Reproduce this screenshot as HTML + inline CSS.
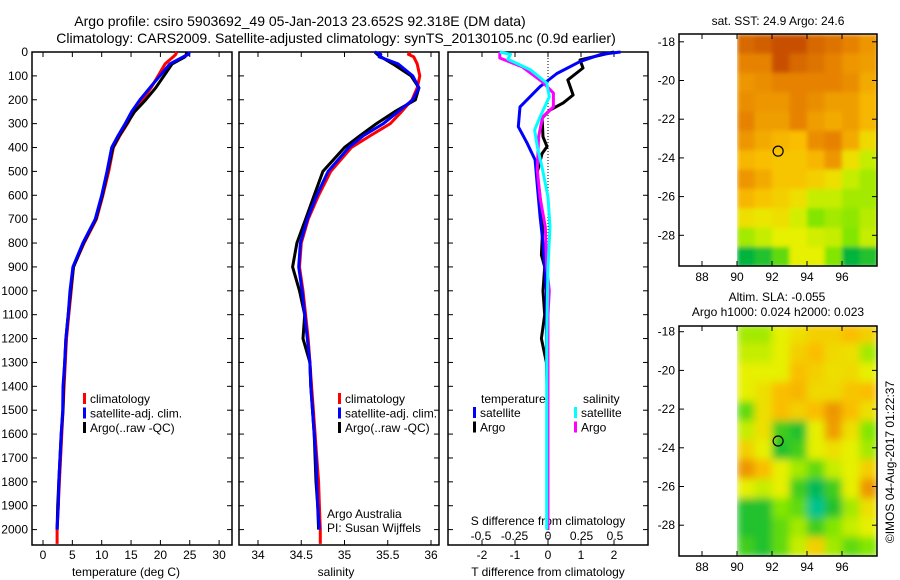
<!DOCTYPE html>
<html><head><meta charset="utf-8">
<style>
body{margin:0;background:#fff;}
svg{display:block;font-family:"Liberation Sans",sans-serif;}
</style></head>
<body>
<svg id="c" width="900" height="580" viewBox="0 0 900 580" xmlns="http://www.w3.org/2000/svg">
<defs>
<filter id="blur1" x="0" y="0" width="1" height="1"><feGaussianBlur stdDeviation="2" edgeMode="duplicate"/></filter>
<filter id="blur2" x="0" y="0" width="1" height="1"><feGaussianBlur stdDeviation="4" edgeMode="duplicate"/></filter>
<clipPath id="cm1"><rect x="736" y="34" width="141" height="232"/></clipPath>
<clipPath id="cm2"><rect x="736" y="326" width="141" height="230"/></clipPath>
</defs>
<text x="300" y="26" text-anchor="middle" font-size="14">Argo profile: csiro 5903692_49 05-Jan-2013 23.652S 92.318E (DM data)</text>
<text x="336" y="43" text-anchor="middle" font-size="14">Climatology: CARS2009. Satellite-adjusted climatology: synTS_20130105.nc (0.9d earlier)</text>
<g id="g"></g>
</svg>
<script>
// ---- data ----
const depths = [0,10,20,50,100,150,200,250,300,350,400,500,600,700,800,900,1000,1100,1200,1300,1400,1500,1600,1700,1800,1900,2000,2060];
const tempClim = [22.8,22.6,22.2,20.8,19.6,18.4,17.0,15.5,14.4,13.1,12.0,11.2,10.2,9.1,7.0,5.2,4.8,4.4,4.0,3.8,3.6,3.4,3.2,3.0,2.8,2.6,2.4,2.4];
const tempSat = [24.9,24.8,23.9,21.6,19.9,18.2,16.5,15.1,14.0,12.8,11.7,10.9,10.0,8.9,6.8,5.1,4.6,4.3,3.9,3.7,3.4,3.35,3.1,2.9,2.7,2.6,2.4];
const tempArgo = [24.5,24.4,24.2,22.0,20.6,19.2,17.5,15.6,14.3,13.0,11.9,11.0,10.1,9.0,6.9,5.2,4.7,4.3,3.9,3.7,3.5,3.4,3.1,2.9,2.7,2.5,2.4];
const salClim = [35.76,35.74,35.8,35.84,35.87,35.84,35.78,35.66,35.53,35.3,35.08,34.84,34.7,34.58,34.5,34.48,34.52,34.55,34.58,34.6,34.62,34.64,34.66,34.68,34.7,34.71,34.72,34.72];
const salSat = [35.35,35.42,35.4,35.62,35.79,35.86,35.79,35.62,35.45,35.22,35.05,34.81,34.68,34.57,34.49,34.47,34.51,34.54,34.57,34.6,34.61,34.63,34.65,34.67,34.68,34.69,34.71];
const salArgo = [35.35,35.38,35.42,35.56,35.77,35.86,35.82,35.58,35.37,35.18,35.0,34.75,34.65,34.55,34.45,34.40,34.48,34.54,34.52,34.6,34.61,34.63,34.65,34.66,34.67,34.69,34.7];
const tdSatDepth = [0,10,40,90,145,230,313,380,452,550,690,800,900,1000,1200,1500,2000];
const tdSat = [2.2,1.6,0.97,0.27,-0.24,-0.85,-0.9,-0.64,-0.39,-0.33,-0.24,-0.15,-0.1,-0.05,-0.05,-0.02,0];
const tdArgoDepth = [0,33,67,117,180,213,243,276,355,396,425,506,607,716,850,900,1000,1100,1200,1300,1500,2000];
const tdArgo = [2.0,0.97,1.06,0.6,0.76,0.46,0.06,-0.18,-0.15,-0.03,-0.18,-0.33,-0.24,-0.15,-0.2,-0.1,-0.15,-0.1,-0.2,-0.05,0,0];
const sdArgoDepth = [0,25,63,126,172,230,272,355,494,607,733,900,1000,1100,1300,2000];
const sdArgo = [-0.36,-0.36,-0.19,-0.04,0.04,0.04,-0.04,-0.07,-0.08,-0.06,-0.02,-0.01,0.01,0,0,0];
const sdSatDepth = [0,10,30,75,130,188,272,327,396,494,607,733,900,1200,2000];
const sdSat = [-0.36,-0.28,-0.3,-0.13,-0.01,0.01,-0.06,-0.1,-0.08,-0.04,0,0.015,0,-0.01,-0.01];
const depthTicks = [0,100,200,300,400,500,600,700,800,900,1000,1100,1200,1300,1400,1500,1600,1700,1800,1900,2000];
const tempTicks = [0,5,10,15,20,25,30];
const salTicks = [34,34.5,35,35.5,36];
const tdTicks = [-2,-1,0,1,2];
const sdTicks = [-0.5,-0.25,0,0.25,0.5];
const sdTickLabels = ["-0.5","-0.25","0","0.25","0.5"];
const latTicks = [-18,-20,-22,-24,-26,-28];
const lonTicks = [88,90,92,94,96];
const sstGrid = [
[0.9,0.92,0.95,0.95,0.9,0.88,0.85,0.8],
[0.85,0.85,0.95,0.9,0.88,0.85,0.8,0.78],
[0.8,0.82,0.85,0.85,0.85,0.85,0.82,0.75],
[0.82,0.8,0.8,0.85,0.82,0.78,0.78,0.72],
[0.85,0.78,0.78,0.85,0.78,0.75,0.78,0.72],
[0.8,0.75,0.72,0.7,0.82,0.85,0.75,0.62],
[0.72,0.7,0.68,0.68,0.72,0.8,0.6,0.5],
[0.8,0.75,0.68,0.68,0.65,0.6,0.5,0.45],
[0.72,0.68,0.65,0.6,0.5,0.5,0.45,0.45],
[0.6,0.58,0.6,0.52,0.4,0.45,0.42,0.48],
[0.45,0.5,0.55,0.55,0.52,0.5,0.4,0.5],
[0.2,0.25,0.35,0.55,0.55,0.4,0.2,0.25]];
const slaGrid = [
[0.45,0.45,0.55,0.6,0.65,0.65,0.7,0.65],
[0.5,0.5,0.55,0.65,0.7,0.62,0.6,0.45],
[0.55,0.55,0.55,0.7,0.65,0.6,0.62,0.55],
[0.55,0.6,0.7,0.72,0.62,0.62,0.68,0.7],
[0.35,0.6,0.7,0.65,0.7,0.8,0.7,0.6],
[0.5,0.6,0.3,0.25,0.55,0.78,0.6,0.4],
[0.65,0.55,0.25,0.3,0.55,0.6,0.55,0.45],
[0.8,0.7,0.55,0.45,0.35,0.5,0.55,0.65],
[0.55,0.5,0.55,0.3,0.15,0.3,0.55,0.8],
[0.25,0.25,0.4,0.35,0.05,0.25,0.45,0.6],
[0.25,0.25,0.35,0.45,0.3,0.4,0.5,0.55],
[0.3,0.25,0.35,0.5,0.65,0.45,0.35,0.4]];
const argoLon = 92.35, argoLat = -23.65;

// ---- helpers ----
const NS="http://www.w3.org/2000/svg";
const G=document.getElementById('g');
function mk(tag,attrs,parent){const e=document.createElementNS(NS,tag);for(const k in attrs)e.setAttribute(k,attrs[k]);(parent||G).appendChild(e);return e;}
function txt(x,y,s,size,anchor,parent){const e=mk('text',{x:x,y:y,'font-size':size||12,'text-anchor':anchor||'start'},parent);e.textContent=s;return e;}
const TOP=52,BOT=545;
const yD=d=>TOP+d*0.2388;
const xT=v=>43+v*5.87;
const xS=v=>258+(v-34)*86.5;
const xTd=v=>548+v*33;
const xSd=v=>548+v*134;
function line(xs,ds,fx,color,name,w){
  let p=xs.map((v,i)=>(i?'L':'M')+fx(v).toFixed(1)+','+yD(ds[i]).toFixed(1)).join('');
  const e=mk('path',{d:p,fill:'none',stroke:color,'stroke-width':w||3,'stroke-linejoin':'round'});
  
  
  return e;
}
function frame(x0,x1,name){
  const r=mk('rect',{x:x0,y:TOP,width:x1-x0,height:BOT-TOP,fill:'none',stroke:'#000','stroke-width':1.5});
  
  
  depthTicks.forEach(d=>{mk('line',{x1:x0,x2:x0+5,y1:yD(d),y2:yD(d),stroke:'#000'});mk('line',{x1:x1,x2:x1-5,y1:yD(d),y2:yD(d),stroke:'#000'});});
}
function xticks(vals,fx,labels,ylab){
  vals.forEach((v,i)=>{const x=fx(v);mk('line',{x1:x,x2:x,y1:BOT,y2:BOT-5,stroke:'#000'});mk('line',{x1:x,x2:x,y1:TOP,y2:TOP+5,stroke:'#000'});
    const t=txt(x,ylab,labels?labels[i]:String(v),12,'middle');
    
    });
}
function legend(x,y,items){
  items.forEach((it,i)=>{mk('rect',{x:x,y:y+i*14.5-10,width:3,height:11,fill:it[1]});
    const t=txt(x+7,y+i*14.5,it[0],12);
    
    });
}

depthTicks.forEach(d=>{const t=txt(28,yD(d)+4,String(d),12,'end');
  
  });

frame(32,232,'temperature-panel');
xticks(tempTicks,xT,null,559);
txt(126,576,'temperature (deg C)',12,'middle');
line(tempClim,depths,xT,'#f00','temp-climatology-line');
line(tempArgo,depths,xT,'#000','temp-argo-line');
line(tempSat,depths,xT,'#00f','temp-satellite-line');
legend(83,403,[['climatology','#f00'],['satellite-adj. clim.','#00f'],['Argo(..raw -QC)','#000']]);

frame(239,439,'salinity-panel');
xticks(salTicks,xS,["34","34.5","35","35.5","36"],559);
txt(336,576,'salinity',12,'middle');
line(salClim,depths,xS,'#f00','sal-climatology-line');
line(salArgo,depths,xS,'#000','sal-argo-line');
line(salSat,depths,xS,'#00f','sal-satellite-line');
legend(338,403,[['climatology','#f00'],['satellite-adj. clim.','#00f'],['Argo(..raw -QC)','#000']]);
txt(327,518,'Argo Australia',12);
txt(327,532,'PI: Susan Wijffels',12);

frame(448,648,'difference-panel');
mk('line',{x1:548,x2:548,y1:TOP,y2:BOT,stroke:'#000','stroke-dasharray':'1,2'});
xticks(tdTicks,xTd,null,559);
sdTicks.forEach((v,i)=>{const t=txt(xSd(v),540,sdTickLabels[i],12,'middle');
  
  });
txt(548,525,'S difference from climatology',12,'middle');
txt(548,576,'T difference from climatology',12,'middle');
line(tdArgo,tdArgoDepth,xTd,'#000','tdiff-argo-line');
line(tdSat,tdSatDepth,xTd,'#00f','tdiff-satellite-line');
line(sdArgo,sdArgoDepth,xSd,'#f0f','sdiff-argo-line');
line(sdSat,sdSatDepth,xSd,'#0ff','sdiff-satellite-line');
txt(481,403,'temperature',12);
legend(473,417,[['satellite','#00f'],['Argo','#000']]);
txt(583,403,'salinity',12);
legend(574,417,[['satellite','#0ff'],['Argo','#f0f']]);

const stops=[[0,[0,200,170]],[0.2,[0,180,60]],[0.4,[130,230,0]],[0.55,[230,240,0]],[0.7,[250,190,0]],[0.85,[230,130,0]],[1,[185,55,0]]];
function cmap(v){for(let i=1;i<stops.length;i++){if(v<=stops[i][0]){const a=stops[i-1],b=stops[i];const t=(v-a[0])/(b[0]-a[0]);return 'rgb('+a[1].map((c,j)=>Math.round(c+(b[1][j]-c)*t)).join(',')+')';}}return 'rgb(185,55,0)';}

function map(y0,grid,filt,clip,name,latY0){
  const xL=v=>737+(v-90)*17.5;
  const yL=v=>latY0+(-18-v)*19.35;
  const g=mk('g',{'clip-path':'url(#'+clip+')'});
  
  
  const inner=mk('g',{filter:'url(#'+filt+')'},g);
  grid.forEach((row,r)=>row.forEach((v,c)=>{
    const x=xL(90+c),y=yL(-17.6-r);
    const cell=mk('rect',{x:x.toFixed(1),y:y.toFixed(1),width:18.5,height:20.4,fill:cmap(v)},inner);
    
    
  }));
  const h=(name==='sst-map'?232:230);
  const fr=mk('rect',{x:679,y:y0,width:198,height:h,fill:'none',stroke:'#000','stroke-width':1.5});
  
  
  const yb=y0+h;
  latTicks.forEach(l=>{const y=yL(l);mk('line',{x1:679,x2:684,y1:y,y2:y,stroke:'#000'});mk('line',{x1:877,x2:872,y1:y,y2:y,stroke:'#000'});txt(675,y+4,String(l),12,'end');});
  lonTicks.forEach(l=>{const x=xL(l);mk('line',{x1:x,x2:x,y1:yb,y2:yb-5,stroke:'#000'});mk('line',{x1:x,x2:x,y1:y0,y2:y0+5,stroke:'#000'});txt(x,yb+15,String(l),12,'middle');});
  const c=mk('circle',{cx:xL(argoLon),cy:yL(argoLat),r:5,fill:'none',stroke:'#000','stroke-width':1.2});
  
  
}
map(34,sstGrid,'blur1','cm1','sst-map',41.8);
txt(778,25,'sat. SST: 24.9 Argo: 24.6',12,'middle');
map(326,slaGrid,'blur2','cm2','sla-map',331.7);
txt(777,301,'Altim. SLA: -0.055',12,'middle');
txt(778,316,'Argo h1000: 0.024 h2000: 0.023',12,'middle');
const cr=txt(0,0,'©IMOS 04-Aug-2017 01:22:37',12,'middle');
cr.setAttribute('transform','translate(894,462) rotate(-90)');


</script>
</body></html>
